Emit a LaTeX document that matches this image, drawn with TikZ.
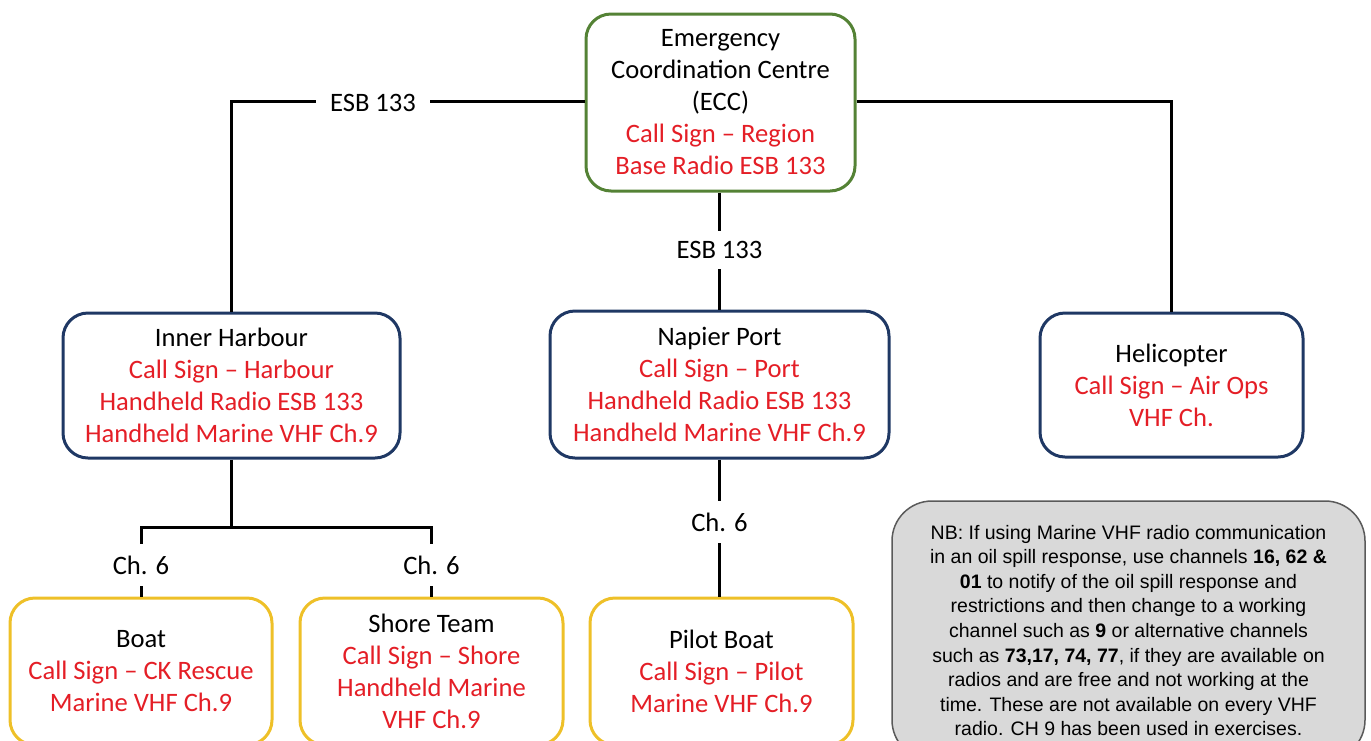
\documentclass[tikz,border=0pt]{standalone}
\usepackage{fontspec}
\setmainfont{Carlito}
\newfontfamily\arialf{Liberation Sans}
\definecolor{cred}{RGB}{228,30,38}
\definecolor{cgreen}{RGB}{84,130,53}
\definecolor{cnavy}{RGB}{31,56,100}
\definecolor{cyellow}{RGB}{238,192,40}
\definecolor{cgrayfill}{RGB}{217,217,217}
\definecolor{cgraydraw}{RGB}{90,90,90}
\begin{document}
\begin{tikzpicture}[x=1pt,y=-1pt,
  box/.style={draw,line width=3pt,rounded corners=25pt,align=center,inner sep=0pt,
    font=\fontsize{26.6}{32}\selectfont},
  greenbox/.style={box,draw=cgreen,minimum width=269pt,minimum height=177pt},
  navybox/.style={box,draw=cnavy},
  yellowbox/.style={box,draw=cyellow,minimum width=262pt,minimum height=147pt},
  conn/.style={line width=3pt,draw=black},
  lbl/.style={fill=white,inner xsep=14pt,inner ysep=10pt,font=\fontsize{26.6}{32}\selectfont},
  notebox/.style={draw=cgraydraw,fill=cgrayfill,line width=1.5pt,rounded corners=40pt,
    align=center,inner sep=0pt,minimum width=473pt,minimum height=259pt,
    font=\arialf\fontsize{19.5}{24.6}\selectfont}
]
\useasboundingbox (0,0) rectangle (1371,740);
\clip (0,0) rectangle (1371,740);

\node[greenbox] (ecc) at (720.5,102.5) {Emergency\\Coordination Centre\\(ECC)\\
  \textcolor{cred}{Call Sign -- Region}\\\textcolor{cred}{Base Radio ESB 133}};

\node[navybox,minimum width=337pt,minimum height=145pt] (ih) at (231.5,385.5)
  {Inner Harbour\\\textcolor{cred}{Call Sign -- Harbour}\\
   \textcolor{cred}{Handheld Radio ESB 133}\\\textcolor{cred}{Handheld Marine VHF Ch.9}};
\node[navybox,minimum width=339pt,minimum height=147pt] (np) at (719.5,384.5)
  {Napier Port\\\textcolor{cred}{Call Sign -- Port}\\
   \textcolor{cred}{Handheld Radio ESB 133}\\\textcolor{cred}{Handheld Marine VHF Ch.9}};
\node[navybox,minimum width=263pt,minimum height=144pt] (heli) at (1171.5,385)
  {Helicopter\\\textcolor{cred}{Call Sign -- Air Ops}\\\textcolor{cred}{VHF Ch.}};

\node[yellowbox] (boat) at (141,671.5)
  {Boat\\\textcolor{cred}{Call Sign -- CK Rescue}\\\textcolor{cred}{Marine VHF Ch.9}};
\node[yellowbox,minimum width=263pt] (shore) at (431.5,671.5)
  {Shore Team\\\textcolor{cred}{Call Sign -- Shore}\\\textcolor{cred}{Handheld Marine}\\\textcolor{cred}{VHF Ch.9}};
\node[yellowbox,minimum width=263pt] (pilot) at (721.5,671.5)
  {Pilot Boat\\\textcolor{cred}{Call Sign -- Pilot}\\\textcolor{cred}{Marine VHF Ch.9}};

\node[notebox] (note) at (1128.5,630.5)
  {NB: If using Marine VHF radio communication\\
   in an oil spill response, use channels \textbf{16, 62 \&}\\
   \textbf{01} to notify of the oil spill response and\\
   restrictions and then change to a working\\
   channel such as \textbf{9} or alternative channels\\
   such as \textbf{73,17, 74, 77}, if they are available on\\
   radios and are free and not working at the\\
   time. These are not available on every VHF\\
   radio. CH 9 has been used in exercises.};

% connectors
\draw[conn] (ecc.west |- 0,101) -- (231.5,101) -- (ih.north);
\draw[conn] (ecc.east |- 0,101) -- (1171.5,101) -- (heli.north);
\draw[conn] (ecc.south -| np.north) -- (np.north);
\coordinate (ihj) at (231.5,527);
\draw[conn] (ih.south) -- (ihj);
\draw[conn] (boat.north) -- (boat.north |- ihj) -- (shore.north |- ihj) -- (shore.north);
\draw[conn] (np.south) -- (np.south |- pilot.north);

% labels
\node[lbl] (l1) at (373,103) {ESB 133};
\node[lbl] (l2) at (719.5,250) {ESB 133};
\node[lbl,inner ysep=12pt] (l3) at (141,565) {Ch. 6};
\node[lbl,inner ysep=12pt] (l4) at (431.5,565) {Ch. 6};
\node[lbl,inner ysep=12pt] (l5) at (719.5,522) {Ch. 6};
\end{tikzpicture}
\end{document}
